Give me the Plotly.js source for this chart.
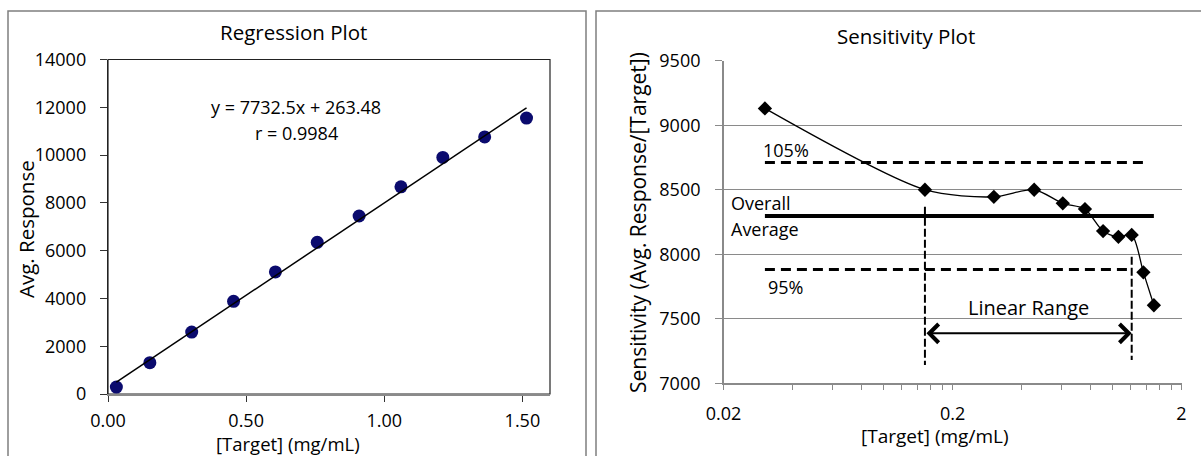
<!DOCTYPE html>
<html><head><meta charset="utf-8">
<script src="https://cdn.plot.ly/plotly-3.0.1.min.js"></script>
<style>html,body{margin:0;padding:0;background:#fff;} #chart{width:1201px;height:456px;}</style>
</head><body><div id="chart"></div>
<script>
// ---- data ----
const concentration = [0.0303, 0.1515, 0.303, 0.4545, 0.606, 0.7575, 0.909, 1.0605, 1.212, 1.3635, 1.515];
const avgResponse = [290, 1310, 2590, 3880, 5110, 6350, 7450, 8670, 9900, 10760, 11550];
const sensitivity = [9130, 8500, 8445, 8500, 8395, 8350, 8180, 8135, 8150, 7860, 7605];
const slope = 7732.5, intercept = 263.48, rValue = 0.9984;
const trendX = [0.0303, 1.515];
const trendY = [498, 11978];
const overallAverage = 8296;
const upperLimit = 8711;   // 105%
const lowerLimit = 7881;   // 95%
const avgLineX = [0.0303, 1.515];
const upperLineX = [0.0303, 1.41];
const lowerLineX = [0.0303, 1.212];
const linearRangeX = [0.1515, 1.212];
const rangeStartY = [8369, 7142];
const rangeEndY = [7981, 7181];
const arrowY = 7387;
const regXTicks = [0, 0.5, 1.0, 1.5];
const regXLabels = ['0.00', '0.50', '1.00', '1.50'];
const regYTicks = [0, 2000, 4000, 6000, 8000, 10000, 12000, 14000];
const regYLabels = ['0', '2000', '4000', '6000', '8000', '10000', '12000', '14000'];
const sensYTicks = [7000, 7500, 8000, 8500, 9000, 9500];
const sensYLabels = ['7000', '7500', '8000', '8500', '9000', '9500'];
const sensXMajor = [0.02, 0.2, 2];
const sensXMajorLabels = ['0.02', '0.2', '2'];
const sensXMinor = [0.04, 0.06, 0.08, 0.1, 0.12, 0.14, 0.16, 0.18, 0.4, 0.6, 0.8, 1.0, 1.2, 1.4, 1.6, 1.8];

// ---- layout helpers (pixel -> paper) ----
const W = 1201, H = 456;
const px = v => v / W;
const py = v => 1 - v / H;
const FONT = '"Open Sans", Lato, sans-serif';
const f = s => ({family: FONT, size: s, color: '#000'});
const TF = f(18);

const traces = [
  {x: concentration, y: avgResponse, xaxis: 'x', yaxis: 'y', mode: 'markers', type: 'scatter',
   marker: {symbol: 'circle', size: 13, color: '#0b0b6e'}, showlegend: false},
  {x: trendX, y: trendY, xaxis: 'x', yaxis: 'y', mode: 'lines', type: 'scatter',
   line: {color: '#000', width: 1.5}, showlegend: false},
  {x: upperLineX, y: upperLineX.map(() => upperLimit), xaxis: 'x2', yaxis: 'y2', mode: 'lines',
   line: {color: '#000', width: 3, dash: '10px,6px'}, showlegend: false},
  {x: lowerLineX, y: lowerLineX.map(() => lowerLimit), xaxis: 'x2', yaxis: 'y2', mode: 'lines',
   line: {color: '#000', width: 3, dash: '10px,6px'}, showlegend: false},
  {x: avgLineX, y: avgLineX.map(() => overallAverage), xaxis: 'x2', yaxis: 'y2', mode: 'lines',
   line: {color: '#000', width: 4}, showlegend: false},
  {x: [linearRangeX[0], linearRangeX[0]], y: rangeStartY, xaxis: 'x2', yaxis: 'y2', mode: 'lines',
   line: {color: '#000', width: 2, dash: '8px,3px'}, showlegend: false},
  {x: [linearRangeX[1], linearRangeX[1]], y: rangeEndY, xaxis: 'x2', yaxis: 'y2', mode: 'lines',
   line: {color: '#000', width: 2, dash: '8px,3px'}, showlegend: false},
  {x: concentration, y: sensitivity, xaxis: 'x2', yaxis: 'y2', mode: 'lines+markers',
   line: {color: '#000', width: 1.3, shape: 'spline', smoothing: 0.8},
   marker: {symbol: 'diamond', size: 11, color: '#000'}, showlegend: false}
];

const gray = '#8a8a8a';
const layout = {
  width: W, height: H,
  margin: {l: 0, r: 0, t: 0, b: 0},
  paper_bgcolor: '#fff', plot_bgcolor: 'rgba(0,0,0,0)',
  font: TF,
  showlegend: false,
  xaxis: {
    domain: [px(108), px(550)], range: [0, 1.6], anchor: 'y',
    tickvals: regXTicks, ticktext: regXLabels, tickfont: TF,
    showgrid: false, zeroline: false, showline: true, linecolor: gray, linewidth: 1.5,
    ticks: 'outside', ticklen: 6, tickcolor: '#333', tickwidth: 1, ticklabelstandoff: 4
  },
  yaxis: {
    domain: [py(394), py(59.5)], range: [0, 14000], anchor: 'x',
    tickvals: regYTicks, ticktext: regYLabels, tickfont: TF,
    showgrid: false, zeroline: false, showline: true, linecolor: '#222', linewidth: 1.2,
    ticks: 'outside', ticklen: 7, tickcolor: '#333', tickwidth: 1, ticklabelstandoff: 10
  },
  xaxis2: {
    domain: [px(723.6), px(1181.5)], type: 'log', range: [Math.log10(0.02), Math.log10(2)], anchor: 'y2',
    tickvals: sensXMajor.concat(sensXMinor),
    ticktext: sensXMajorLabels.concat(sensXMinor.map(() => '')), tickfont: TF,
    showgrid: false, zeroline: false, showline: true, linecolor: gray, linewidth: 1.5,
    ticks: 'outside', ticklen: 5, tickcolor: gray, tickwidth: 1, ticklabelstandoff: 9
  },
  yaxis2: {
    domain: [py(383.3), py(60.7)], range: [7000, 9500], anchor: 'x2',
    tickvals: sensYTicks, ticktext: sensYLabels, tickfont: TF,
    showgrid: true, gridcolor: gray, gridwidth: 1.2, zeroline: false,
    showline: true, linecolor: gray, linewidth: 1.5,
    ticks: 'outside', ticklen: 7, tickcolor: gray, tickwidth: 1, ticklabelstandoff: 11
  },
  shapes: [
    {type: 'rect', xref: 'paper', yref: 'paper', x0: px(8), x1: px(586), y0: py(470), y1: py(11),
     line: {color: '#7f7f7f', width: 1.5}, layer: 'below'},
    {type: 'rect', xref: 'paper', yref: 'paper', x0: px(596), x1: px(1215), y0: py(470), y1: py(11),
     line: {color: '#7f7f7f', width: 1.5}, layer: 'below'},
    {type: 'rect', xref: 'paper', yref: 'paper', x0: px(108), x1: px(550), y0: py(394), y1: py(59.5),
     line: {color: '#222', width: 1.2}, layer: 'below'}
  ],
  annotations: [
    // chart titles
    {xref: 'paper', yref: 'paper', x: px(293), y: py(32), text: 'Regression Plot', showarrow: false,
     xanchor: 'center', yanchor: 'middle', font: f(20.5)},
    {xref: 'paper', yref: 'paper', x: px(906), y: py(36), text: 'Sensitivity Plot', showarrow: false,
     xanchor: 'center', yanchor: 'middle', font: f(20.5)},
    // axis titles
    {xref: 'paper', yref: 'paper', x: px(288), y: py(443.5), text: '[Target] (mg/mL)', showarrow: false,
     xanchor: 'center', yanchor: 'middle', font: f(18.5)},
    {xref: 'paper', yref: 'paper', x: px(26), y: py(229), text: 'Avg. Response', showarrow: false,
     textangle: -90, xanchor: 'center', yanchor: 'middle', font: f(20.5)},
    {xref: 'paper', yref: 'paper', x: px(935), y: py(436), text: '[Target] (mg/mL)', showarrow: false,
     xanchor: 'center', yanchor: 'middle', font: f(19)},
    {xref: 'paper', yref: 'paper', x: px(638), y: py(223), text: 'Sensitivity (Avg. Response/[Target])', showarrow: false,
     textangle: -90, xanchor: 'center', yanchor: 'middle', font: f(21)},
    // regression text
    {xref: 'paper', yref: 'paper', x: px(296), y: py(107),
     text: 'y = ' + slope + 'x + ' + intercept, showarrow: false, xanchor: 'center', yanchor: 'middle', font: TF},
    {xref: 'paper', yref: 'paper', x: px(296), y: py(133),
     text: 'r = ' + rValue, showarrow: false, xanchor: 'center', yanchor: 'middle', font: TF},
    // sensitivity labels
    {xref: 'paper', yref: 'paper', x: px(761), y: py(150), text: '105%', showarrow: false,
     xanchor: 'left', yanchor: 'middle', font: TF},
    {xref: 'paper', yref: 'paper', x: px(729), y: py(203), text: 'Overall', showarrow: false,
     xanchor: 'left', yanchor: 'middle', font: TF},
    {xref: 'paper', yref: 'paper', x: px(729), y: py(229), text: 'Average', showarrow: false,
     xanchor: 'left', yanchor: 'middle', font: TF},
    {xref: 'paper', yref: 'paper', x: px(766), y: py(287), text: '95%', showarrow: false,
     xanchor: 'left', yanchor: 'middle', font: TF},
    {xref: 'paper', yref: 'paper', x: px(1028), y: py(307), text: 'Linear Range', showarrow: false,
     xanchor: 'center', yanchor: 'middle', font: f(20)},
    {xref: 'x2', yref: 'y2', axref: 'x2', ayref: 'y2',
     x: Math.log10(linearRangeX[1]), y: arrowY, ax: Math.log10(linearRangeX[0]), ay: arrowY,
     text: '', showarrow: true, arrowside: 'end+start', arrowhead: 4, arrowsize: 1.8, arrowwidth: 2,
     arrowcolor: '#000', standoff: 0, startstandoff: 0}
  ]
};

Plotly.newPlot('chart', traces, layout, {staticPlot: true, displayModeBar: false});
</script>
</body></html>
